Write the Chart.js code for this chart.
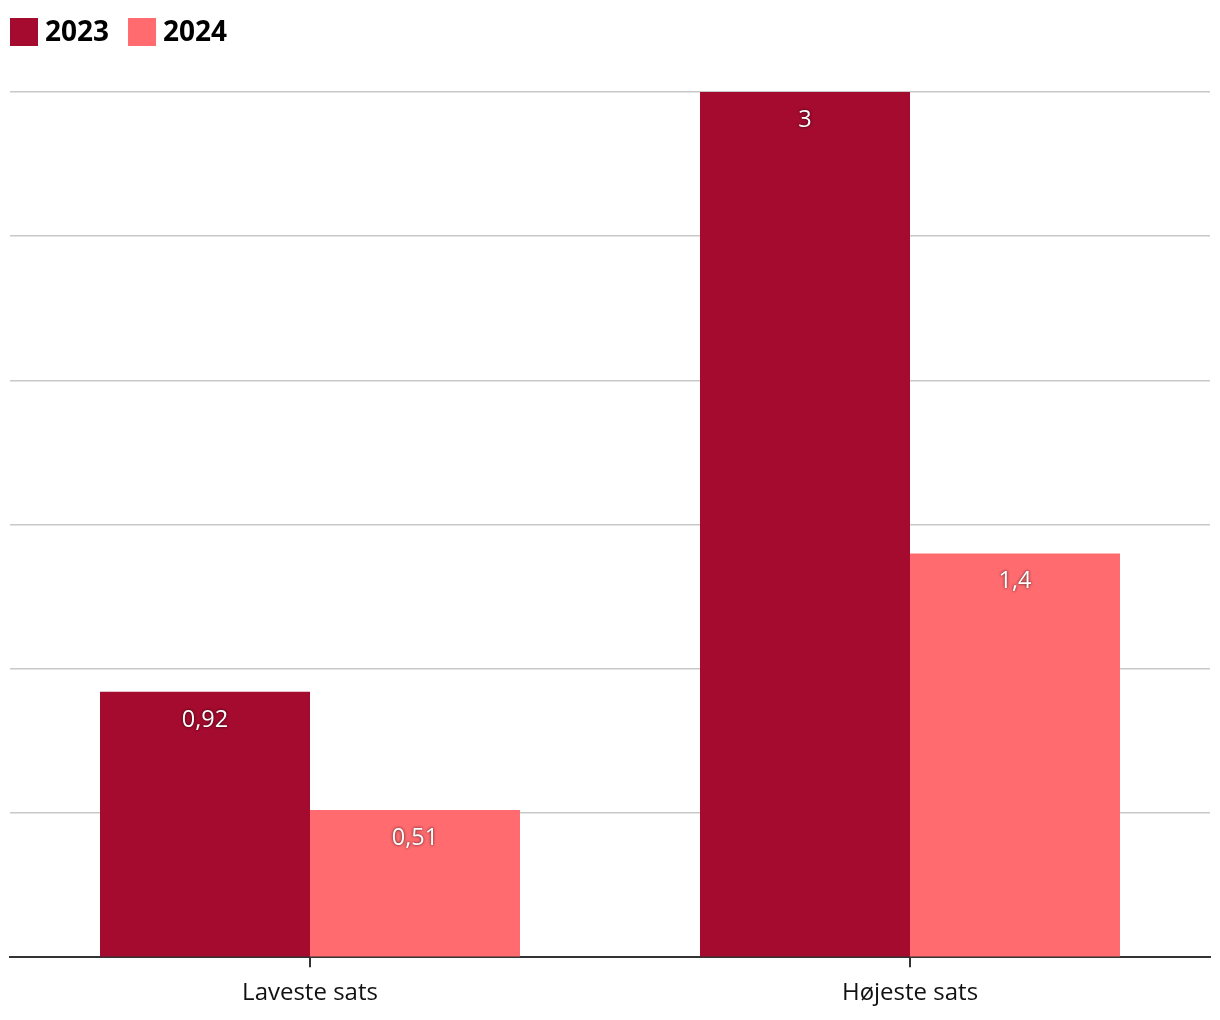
<!DOCTYPE html>
<html>
<head>
<meta charset="utf-8">
<script src="https://cdn.jsdelivr.net/npm/chart.js@4/dist/chart.umd.min.js"></script>
<style>
html,body{margin:0;padding:0;background:#fff;}
#wrap{width:1220px;height:1020px;position:relative;}
</style>
</head>
<body>
<div id="wrap"><canvas id="c" width="1220" height="1020"></canvas></div>
<script>
const categories = ["Laveste sats", "Højeste sats"];
const seriesNames = ["2023", "2024"];
const values2023 = [0.92, 3];
const values2024 = [0.51, 1.4];
const seriesColors = ["#a50b2e", "#ff6b6f"];
const yTicks = [0, 0.5, 1, 1.5, 2, 2.5, 3];

const FONT = "'Open Sans', 'Noto Sans', sans-serif";

function fmt(v){ return String(v).replace('.', ','); }

const legendPlugin = {
  id: 'customLegend',
  afterDraw(chart){
    const ctx = chart.ctx;
    ctx.save();
    ctx.font = "bold 28px " + FONT;
    ctx.textBaseline = 'middle';
    let x = 10;
    chart.data.datasets.forEach(ds => {
      ctx.fillStyle = ds.backgroundColor;
      ctx.fillRect(x, 18, 28, 28);
      ctx.fillStyle = '#000';
      ctx.fillText(ds.label, x + 35, 33);
      x += 35 + ctx.measureText(ds.label).width + 19;
    });
    ctx.restore();
  }
};

const labelPlugin = {
  id: 'barLabels',
  afterDatasetsDraw(chart){
    const ctx = chart.ctx;
    ctx.save();
    ctx.font = "23.5px " + FONT;
    ctx.textAlign = 'center';
    ctx.textBaseline = 'middle';
    ctx.fillStyle = '#fff';
    ctx.shadowColor = 'rgba(0,0,0,0.8)';
    ctx.shadowBlur = 3;
    chart.data.datasets.forEach((ds, di) => {
      const meta = chart.getDatasetMeta(di);
      meta.data.forEach((bar, i) => {
        ctx.fillText(fmt(ds.data[i]), bar.x, bar.y + 28);
      });
    });
    ctx.restore();
  }
};

new Chart(document.getElementById('c'), {
  type: 'bar',
  data: {
    labels: categories,
    datasets: [
      { label: seriesNames[0], data: values2023, backgroundColor: seriesColors[0], categoryPercentage: 0.7, barPercentage: 1.0 },
      { label: seriesNames[1], data: values2024, backgroundColor: seriesColors[1], categoryPercentage: 0.7, barPercentage: 1.0 }
    ]
  },
  options: {
    responsive: false,
    animation: false,
    layout: { padding: { top: 92, left: 10, right: 10, bottom: 0 } },
    plugins: { legend: { display: false }, tooltip: { enabled: false } },
    scales: {
      x: {
        grid: { offset: false, drawOnChartArea: false, drawTicks: true, tickLength: 10, color: '#333', lineWidth: 2 },
        border: { color: '#333', width: 2 },
        ticks: { font: { family: FONT, size: 24 }, color: '#111', padding: 12 }
      },
      y: {
        min: 0, max: 3,
        afterBuildTicks(axis){ axis.ticks = yTicks.map(v => ({ value: v })); },
        ticks: { display: false },
        grid: { color: '#c8c8c8', lineWidth: 1.5, drawTicks: false },
        border: { display: false }
      }
    }
  },
  plugins: [legendPlugin, labelPlugin]
});
</script>
</body>
</html>
